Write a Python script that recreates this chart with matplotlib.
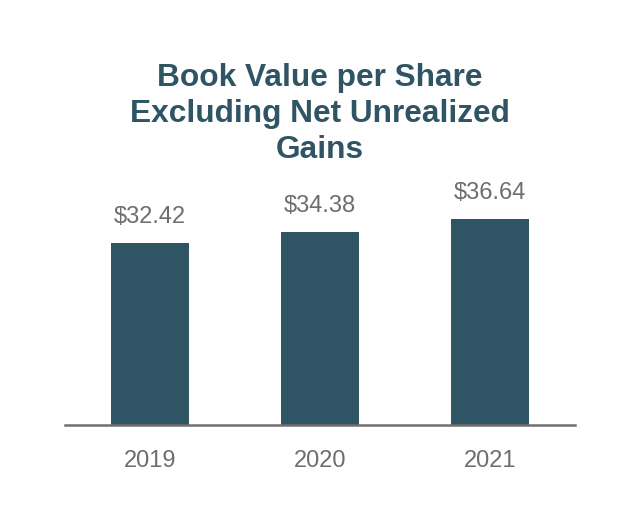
import numpy as np
import matplotlib.pyplot as plt

years = ["2019", "2020", "2021"]
values = [32.42, 34.38, 36.64]
labels = ["$32.42", "$34.38", "$36.64"]

bar_color = "#2f5564"
text_gray = "#6e6e6e"

plt.rcParams['font.family'] = ['Liberation Sans', 'DejaVu Sans']

fig = plt.figure(figsize=(6.4, 5.32), dpi=100)
ax = fig.add_axes([65/640, 1 - 425/532, 510/640, 255/532])

x = np.arange(len(years))
ax.bar(x, values, width=0.46, color=bar_color, zorder=2)
for xi, v, lab in zip(x, values, labels):
    ax.text(xi, v + 2.7, lab, ha="center", va="bottom", fontsize=17, color=text_gray)

ax.set_xlim(-0.5, 2.5)
ax.set_ylim(0, 45.4)
ax.set_xticks(x)
ax.set_xticklabels(years, fontsize=17, color=text_gray)
ax.tick_params(axis="x", length=0, pad=18)
ax.set_yticks([])
for s in ["top", "right", "left"]:
    ax.spines[s].set_visible(False)
ax.spines["bottom"].set_color("#707070")
ax.spines["bottom"].set_linewidth(1.8)

fig.text(0.5, 1 - 114/532, "Book Value per Share\nExcluding Net Unrealized\nGains",
         ha="center", va="center", fontsize=22.8, fontweight="bold",
         color=bar_color, linespacing=1.24)

fig.savefig("out.png", dpi=100)
